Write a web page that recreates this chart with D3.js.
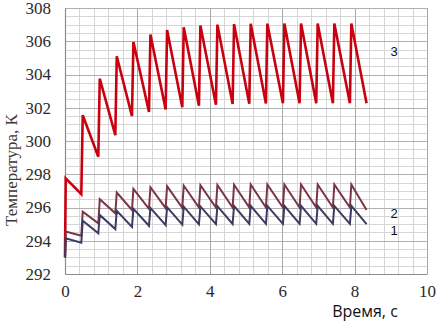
<!DOCTYPE html>
<html>
<head>
<meta charset="utf-8">
<script src="https://cdn.jsdelivr.net/npm/d3@7"></script>
<style>
  body { margin: 0; background: #fff; }
  svg { display: block; }
</style>
</head>
<body>
<div id="chart"></div>
<script>
// time of each heating pulse (peak) and of the following low point, s
var pulseTimes  = [0.02, 0.49, 0.96, 1.43, 1.89, 2.36, 2.82, 3.28, 3.74, 4.21, 4.67, 5.13, 5.59, 6.06, 6.52, 6.98, 7.44, 7.91];
var troughTimes = [0.45, 0.92, 1.39, 1.85, 2.32, 2.78, 3.24, 3.70, 4.17, 4.63, 5.09, 5.55, 6.02, 6.48, 6.94, 7.40, 7.87, 8.33];

var startTemp = 293.0;

// curve 1
var peaks1   = [294.15, 295.2, 295.55, 295.8, 295.92, 295.98, 296.02, 296.05, 296.07, 296.08, 296.09, 296.1, 296.1, 296.1, 296.1, 296.1, 296.1, 296.1];
var troughs1 = [293.88, 294.45, 294.7, 294.83, 294.9, 294.94, 294.97, 294.99, 295.0, 295.01, 295.02, 295.02, 295.02, 295.02, 295.02, 295.02, 295.02, 295.0];
// curve 2
var peaks2   = [294.55, 295.75, 296.5, 296.9, 297.12, 297.22, 297.28, 297.32, 297.34, 297.36, 297.37, 297.38, 297.38, 297.38, 297.38, 297.38, 297.38, 297.38];
var troughs2 = [294.3, 295.05, 295.65, 295.85, 295.92, 295.96, 295.98, 296.0, 296.0, 296.0, 296.0, 296.0, 296.0, 296.0, 296.0, 296.0, 296.0, 295.85];
// curve 3
var peaks3   = [297.75, 301.55, 303.75, 305.1, 305.95, 306.4, 306.68, 306.84, 306.94, 307.0, 307.03, 307.05, 307.06, 307.07, 307.07, 307.07, 307.07, 307.07];
var troughs3 = [296.8, 299.05, 300.35, 301.5, 301.75, 301.9, 302.03, 302.12, 302.18, 302.22, 302.24, 302.26, 302.27, 302.27, 302.27, 302.27, 302.27, 302.27];

var xTicks = [0, 2, 4, 6, 8, 10];
var yTicks = [292, 294, 296, 298, 300, 302, 304, 306, 308];

function buildCurve(peaks, troughs) {
    var pts = [[0, startTemp]];
    for (var i = 0; i < pulseTimes.length; i++) {
        pts.push([pulseTimes[i], peaks[i]]);
        pts.push([troughTimes[i], troughs[i]]);
    }
    return pts;
}

var width = 440, height = 321;
var margin = { top: 8, right: 13, bottom: 47, left: 65 };
var w = width - margin.left - margin.right,
    h = height - margin.top - margin.bottom;

var svg = d3.select("#chart").append("svg")
    .attr("width", width)
    .attr("height", height);

var g = svg.append("g")
    .attr("transform", "translate(" + margin.left + "," + margin.top + ")");

var x = d3.scaleLinear().domain([0, 10]).range([0, w]);
var y = d3.scaleLinear().domain([292, 308]).range([h, 0]);

// minor grid
g.append("g").selectAll("line")
    .data(d3.range(0, 25).map(function (i) { return i * 0.4; }))
    .enter().append("line")
    .attr("x1", function (d) { return Math.round(x(d)) + 0.5; })
    .attr("x2", function (d) { return Math.round(x(d)) + 0.5; })
    .attr("y1", 0).attr("y2", h)
    .attr("stroke", "#d6d6d6").attr("stroke-width", 1);

g.append("g").selectAll("line")
    .data(d3.range(0, 32).map(function (i) { return 292 + i * 0.5; }))
    .enter().append("line")
    .attr("y1", function (d) { return Math.round(y(d)) + 0.5; })
    .attr("y2", function (d) { return Math.round(y(d)) + 0.5; })
    .attr("x1", 0).attr("x2", w)
    .attr("stroke", "#d6d6d6").attr("stroke-width", 1);

// major grid
g.append("g").selectAll("line")
    .data(xTicks)
    .enter().append("line")
    .attr("x1", function (d) { return Math.round(x(d)) + 0.5; })
    .attr("x2", function (d) { return Math.round(x(d)) + 0.5; })
    .attr("y1", 0).attr("y2", h)
    .attr("stroke", "#a8a8a8").attr("stroke-width", 1);

g.append("g").selectAll("line")
    .data(yTicks)
    .enter().append("line")
    .attr("y1", function (d) { return Math.round(y(d)) + 0.5; })
    .attr("y2", function (d) { return Math.round(y(d)) + 0.5; })
    .attr("x1", 0).attr("x2", w)
    .attr("stroke", "#b0b0b0").attr("stroke-width", 1);

// axes
var xAxis = g.append("g")
    .attr("transform", "translate(0," + h + ")")
    .call(d3.axisBottom(x).tickValues(xTicks).tickSize(0).tickPadding(11));
var yAxis = g.append("g")
    .call(d3.axisLeft(y).tickValues(yTicks).tickSize(0).tickPadding(14));

[xAxis, yAxis].forEach(function (a) {
    a.select(".domain").attr("stroke", "#8c8c8c").attr("stroke-width", 1.2);
    a.selectAll("text")
        .attr("font-family", "'Liberation Serif', 'DejaVu Serif', serif")
        .attr("font-size", "17px")
        .attr("fill", "#2a2a2a");
});

var line = d3.line()
    .x(function (d) { return x(d[0]); })
    .y(function (d) { return y(d[1]); });

var curves = [
    { pts: buildCurve(peaks3, troughs3), color: "#c8000f", width: 2.6 },
    { pts: buildCurve(peaks2, troughs2), color: "#7a3544", width: 2 },
    { pts: buildCurve(peaks1, troughs1), color: "#3e3a62", width: 2 }
];

g.selectAll("path.curve")
    .data(curves)
    .enter().append("path")
    .attr("class", "curve")
    .attr("d", function (d) { return line(d.pts); })
    .attr("fill", "none")
    .attr("stroke", function (d) { return d.color; })
    .attr("stroke-width", function (d) { return d.width; })
    .attr("stroke-linejoin", "miter");

// curve numbers
var labels = [
    { text: "3", t: 8.99, v: 305.1 },
    { text: "2", t: 8.99, v: 295.37 },
    { text: "1", t: 8.99, v: 294.35 }
];
g.selectAll("text.num")
    .data(labels)
    .enter().append("text")
    .attr("class", "num")
    .attr("x", function (d) { return x(d.t); })
    .attr("y", function (d) { return y(d.v); })
    .attr("font-family", "'Liberation Sans', Arial, sans-serif")
    .attr("font-size", "13px")
    .attr("fill", "#111")
    .text(function (d) { return d.text; });

// axis titles
svg.append("text")
    .attr("transform", "translate(17,170) rotate(-90)")
    .attr("text-anchor", "middle")
    .attr("font-family", "'Liberation Serif', 'DejaVu Serif', serif")
    .attr("font-size", "17px")
    .attr("fill", "#3a3a3a")
    .text("Температура, К");

svg.append("text")
    .attr("x", 365)
    .attr("y", 317)
    .attr("text-anchor", "middle")
    .attr("font-family", "'Open Sans', 'Noto Sans', sans-serif")
    .attr("font-size", "16px")
    .attr("fill", "#111")
    .text("Время, с");
</script>
</body>
</html>
